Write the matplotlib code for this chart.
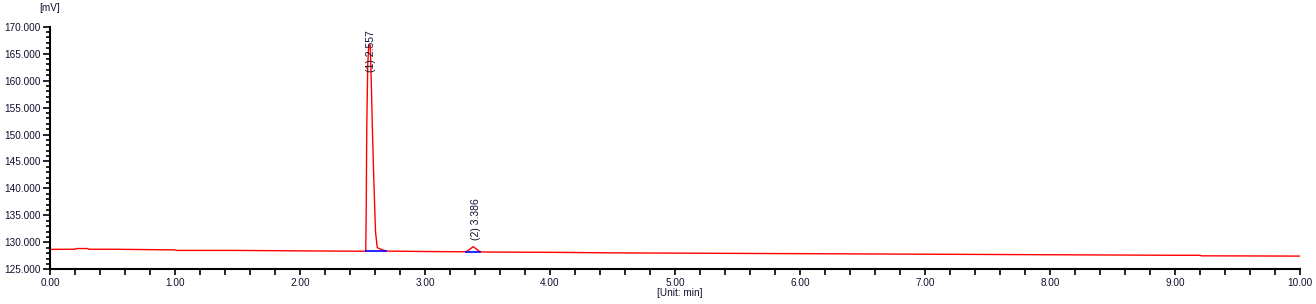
import matplotlib.pyplot as plt
from matplotlib.ticker import MultipleLocator, FormatStrFormatter

plt.rcParams['font.family'] = ['Liberation Sans', 'DejaVu Sans']

# chromatogram signal (min, mV)
time_min = [0.00, 0.20, 0.21, 0.30, 0.31, 0.50, 1.00, 1.01, 1.50, 2.00, 2.50,
            2.526, 2.530, 2.534, 2.542, 2.550, 2.562, 2.570, 2.578, 2.590, 2.604,
            2.618, 2.640, 2.660, 2.690, 3.00, 3.30, 3.33, 3.386, 3.44, 3.50,
            4.00, 4.50, 5.00, 5.50, 6.00, 6.50, 7.00, 7.50, 8.00, 8.50, 9.00,
            9.20, 9.21, 10.00]
signal_mv = [128.70, 128.72, 128.85, 128.85, 128.72, 128.72, 128.60, 128.50, 128.50, 128.42, 128.35,
             128.35, 137.0, 151.0, 163.0, 166.6, 166.6, 160.0, 152.0, 142.0, 132.0,
             129.0, 128.8, 128.6, 128.38, 128.30, 128.25, 128.25, 129.20, 128.25, 128.20,
             128.15, 128.05, 128.00, 127.95, 127.90, 127.85, 127.80, 127.75, 127.70, 127.65, 127.60,
             127.60, 127.50, 127.45]

# integration baselines (start, end, level)
base_start = [2.528, 3.33]
base_end = [2.688, 3.44]
base_level = [128.35, 128.25]

# peak annotations
peak_labels = ['(1) 2.557', '(2) 3.386']
peak_x = [2.568, 3.41]
peak_y = [161.6, 130.4]

fig = plt.figure(figsize=(13.16, 3.04), dpi=100)
ax = fig.add_axes([50 / 1316, 1 - 269.3 / 304, 1250 / 1316, 242.6 / 304])

ax.plot(time_min, signal_mv, color='red', lw=1.0, zorder=2)
for s, e, lv in zip(base_start, base_end, base_level):
    ax.plot([s, e], [lv, lv], color='blue', lw=1.2, zorder=3)

for lab, x, y in zip(peak_labels, peak_x, peak_y):
    ax.text(x, y, lab, rotation=90, ha='center', va='bottom', fontsize=7.5, color='#101030')

ax.set_xlim(0, 10)
ax.set_ylim(125, 170)
ax.xaxis.set_major_locator(MultipleLocator(1))
ax.xaxis.set_minor_locator(MultipleLocator(0.2))
ax.yaxis.set_major_locator(MultipleLocator(5))
ax.yaxis.set_minor_locator(MultipleLocator(1))
ax.xaxis.set_major_formatter(FormatStrFormatter('%.2f'))
ax.yaxis.set_major_formatter(FormatStrFormatter('%.3f'))

ax.spines['top'].set_visible(False)
ax.spines['right'].set_visible(False)
ax.spines['left'].set_linewidth(1.5)
ax.spines['bottom'].set_linewidth(1.5)
ax.tick_params(axis='both', which='both', direction='out', width=1.2, labelsize=7.2,
               labelcolor='#101030', color='black')
ax.tick_params(axis='x', which='major', length=4, pad=2)
ax.tick_params(axis='x', which='minor', length=4)
ax.tick_params(axis='y', which='major', length=5, pad=2)
ax.tick_params(axis='y', which='minor', length=3)

fig.text(50 / 1316, 1 - 8 / 304, '[mV]', ha='center', va='center', fontsize=7.2, color='#101030')
fig.text(680 / 1316, 1 - 293 / 304, '[Unit: min]', ha='center', va='center', fontsize=7.2, color='#101030')

fig.savefig('out.png', dpi=100)
